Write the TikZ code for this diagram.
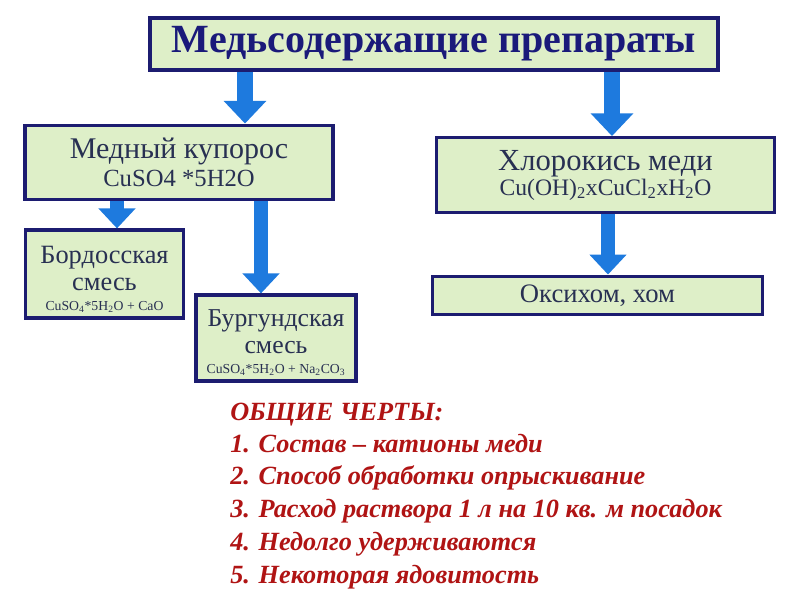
\documentclass[tikz,border=0pt]{standalone}
\usepackage{fontspec}
\setmainfont{Liberation Serif}
\usetikzlibrary{arrows.meta}
\definecolor{boxfill}{RGB}{222,239,200}
\definecolor{boxline}{RGB}{28,28,112}
\definecolor{titletext}{RGB}{26,26,122}
\definecolor{boxtext}{RGB}{40,48,82}
\definecolor{arrowblue}{RGB}{30,122,222}
\definecolor{redtext}{RGB}{176,20,20}
\newcommand{\fsz}[2]{\fontsize{#1}{#2}\selectfont}
\begin{document}
\begin{tikzpicture}[x=0.75pt,y=-0.75pt,
  box/.style={draw=boxline, fill=boxfill, line width=2.4pt, inner sep=0pt, align=center, text=boxtext},
  barrow/.style={draw=arrowblue, line width=12pt, -{Triangle[width=31pt,length=17pt]}},
  sarrow/.style={draw=arrowblue, line width=10.5pt, -{Triangle[width=27pt,length=15pt]}},
  redline/.style={anchor=base west, text=redtext, font=\fsz{19.7pt}{22pt}\bfseries\itshape, inner sep=0pt}]
\useasboundingbox (0,0) rectangle (800,601);
\fill[white] (0,0) rectangle (800,601);

\node[box, line width=3pt, minimum width=426pt, minimum height=39pt, text=titletext,
  font=\fsz{30pt}{32pt}\bfseries] (title) at (434,44) {Медьсодержащие препараты};

\node[box, minimum width=231pt, minimum height=56pt, font=\fsz{22.5pt}{21.5pt}] (med) at (179,162.5)
  {Медный купорос\\\fsz{18.5pt}{21.5pt}CuSO4 *5H2O};

\node[box, minimum width=254pt, minimum height=56pt, font=\fsz{23pt}{18.75pt}] (chlor) at (605.5,175)
  {Хлорокись меди\\\fsz{17.7pt}{18.75pt}Cu(OH)\textsubscript{2}xCuCl\textsubscript{2}xH\textsubscript{2}O};

\node[box, minimum width=119pt, minimum height=66pt, font=\fsz{19.8pt}{20pt}] (bord) at (104.5,274)
  {\rule{0pt}{21pt}Бордосская\\смесь\\[-5pt]\fsz{10.3pt}{20pt}CuSO\textsubscript{4}*5H\textsubscript{2}O + CaO};

\node[box, minimum width=120pt, minimum height=64.5pt, font=\fsz{19.3pt}{20pt}] (burg) at (276,338)
  {\rule{0pt}{20pt}Бургундская\\смесь\\[-5pt]\fsz{10.3pt}{20pt}CuSO\textsubscript{4}*5H\textsubscript{2}O + Na\textsubscript{2}CO\textsubscript{3}};

\node[box, minimum width=248pt, minimum height=29pt, font=\fsz{20pt}{22pt}] (oksi) at (597.5,295.5) {Оксихом, хом};

\coordinate (xa) at (245,0);
\coordinate (xb) at (612,0);
\coordinate (xc) at (117,0);
\coordinate (xd) at (261,0);
\coordinate (xe) at (608,0);

\draw[barrow] (title.south -| xa) -- (med.north -| xa);
\draw[barrow] (title.south -| xb) -- (chlor.north -| xb);
\draw[sarrow] (med.south -| xc) -- (bord.north -| xc);
\draw[sarrow] (med.south -| xd) -- (burg.north -| xd);
\draw[sarrow] (chlor.south -| xe) -- (oksi.north -| xe);

\node[redline] (r0) at (230,420) {ОБЩИЕ ЧЕРТЫ:};
\node[redline] (r1) at (230,452) {1. Состав – катионы меди};
\node[redline] (r2) at (230,484) {2. Способ обработки опрыскивание};
\node[redline] (r3) at (230,517) {3. Расход раствора 1 л на 10 кв. м посадок};
\node[redline] (r4) at (230,550) {4. Недолго удерживаются};
\node[redline] (r5) at (230,583) {5. Некоторая ядовитость};
\end{tikzpicture}
\end{document}
